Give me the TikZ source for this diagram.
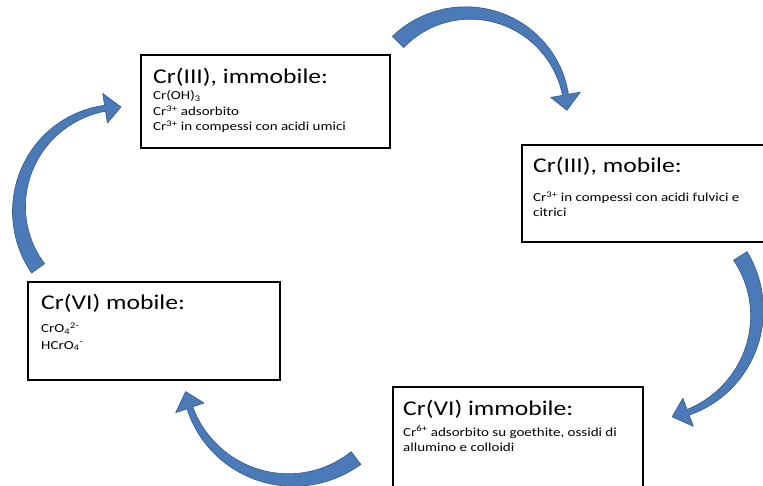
\documentclass[tikz,border=0pt]{standalone}
\usepackage{fontspec}
\setmainfont{Carlito}[FakeStretch=1.22]
\usepackage{tikz}
\usetikzlibrary{calc, positioning}
\usepackage{xcolor}
\definecolor{cycleBlue}{RGB}{74, 123, 184}
\definecolor{cycleEdge}{RGB}{52, 88, 133}

\newcommand{\titlesize}{\fontsize{21}{25}\selectfont}
\newcommand{\bodysize}{\fontsize{12.3}{15}\selectfont}

% curved block arrow: centre x, centre y, radius, start angle, end angle
\newcommand{\bendarrow}[5]{%
  \filldraw[arrowbody, shift={(#1,#2)}]
    plot[domain=#4:#5, samples=40] (\x:{#3+8-5*(\x-(#4))/((#5)-(#4))})
    -- ({#5}:{#3+15}) -- ({#5+9}:{#3}) -- ({#5}:{#3-15})
    -- plot[domain=#5:#4, samples=40] (\x:{#3-8+5*(\x-(#4))/((#5)-(#4))})
    -- cycle;}

\begin{document}
\begin{tikzpicture}[x=1pt, y=-1pt,
    box/.style={draw, fill=white, line width=2.6pt, inner sep=0pt},
    head/.style={anchor=base west, inner sep=0pt, font=\titlesize},
    item/.style={anchor=base west, inner sep=0pt, font=\bodysize},
    arrowbody/.style={fill=cycleBlue, draw=cycleEdge, line width=0.6pt, line join=round}]
  \fill[white] (0,0) rectangle (763,486);
  \clip (0,0) rectangle (763,486);

  \node[box, minimum width=249pt, minimum height=93pt] (imm3) at (265.5,101.5) {};
  \node[box, minimum width=253pt, minimum height=97pt] (mob3) at (648.5,193.5) {};
  \node[box, minimum width=252pt, minimum height=98pt] (mob6) at (154,331) {};
  \node[box, minimum width=250pt, minimum height=113pt] (imm6) at (518,443.5) {};

  \node[head] (imm3t) at (153,84) {Cr(III), immobile:};
  \node[item] (imm3a) at (153,100) {Cr(OH)\textsubscript{3}};
  \node[item] (imm3b) at (153,116) {Cr\textsuperscript{3+} adsorbito};
  \node[item] (imm3c) at (153,131) {Cr\textsuperscript{3+} in compessi con acidi umici};

  \node[head] (mob3t) at (533,173) {Cr(III), mobile:};
  \node[item] (mob3a) at (533,202) {Cr\textsuperscript{3+} in compessi con acidi fulvici e};
  \node[item] (mob3b) at (533,217) {citrici};

  \node[head] (mob6t) at (41,310) {Cr(VI) mobile:};
  \node[item] (mob6a) at (41,333) {CrO\textsubscript{4}\textsuperscript{2-}};
  \node[item] (mob6b) at (41,349) {HCrO\textsubscript{4}\textsuperscript{-}};

  \node[head] (imm6t) at (403,415) {Cr(VI) immobile:};
  \node[item] (imm6a) at (403,436) {Cr\textsuperscript{6+} adsorbito su goethite, ossidi di};
  \node[item] (imm6b) at (403,451) {allumino e colloidi};

  % the four curved arrows of the cycle
  \bendarrow{468}{112}{99}{-135}{-10}
  \bendarrow{651}{313}{106}{-32.6}{69.5}
  \bendarrow{291}{373}{107}{52.6}{161}
  \bendarrow{121}{209}{102}{144.4}{261}
\end{tikzpicture}
\end{document}
